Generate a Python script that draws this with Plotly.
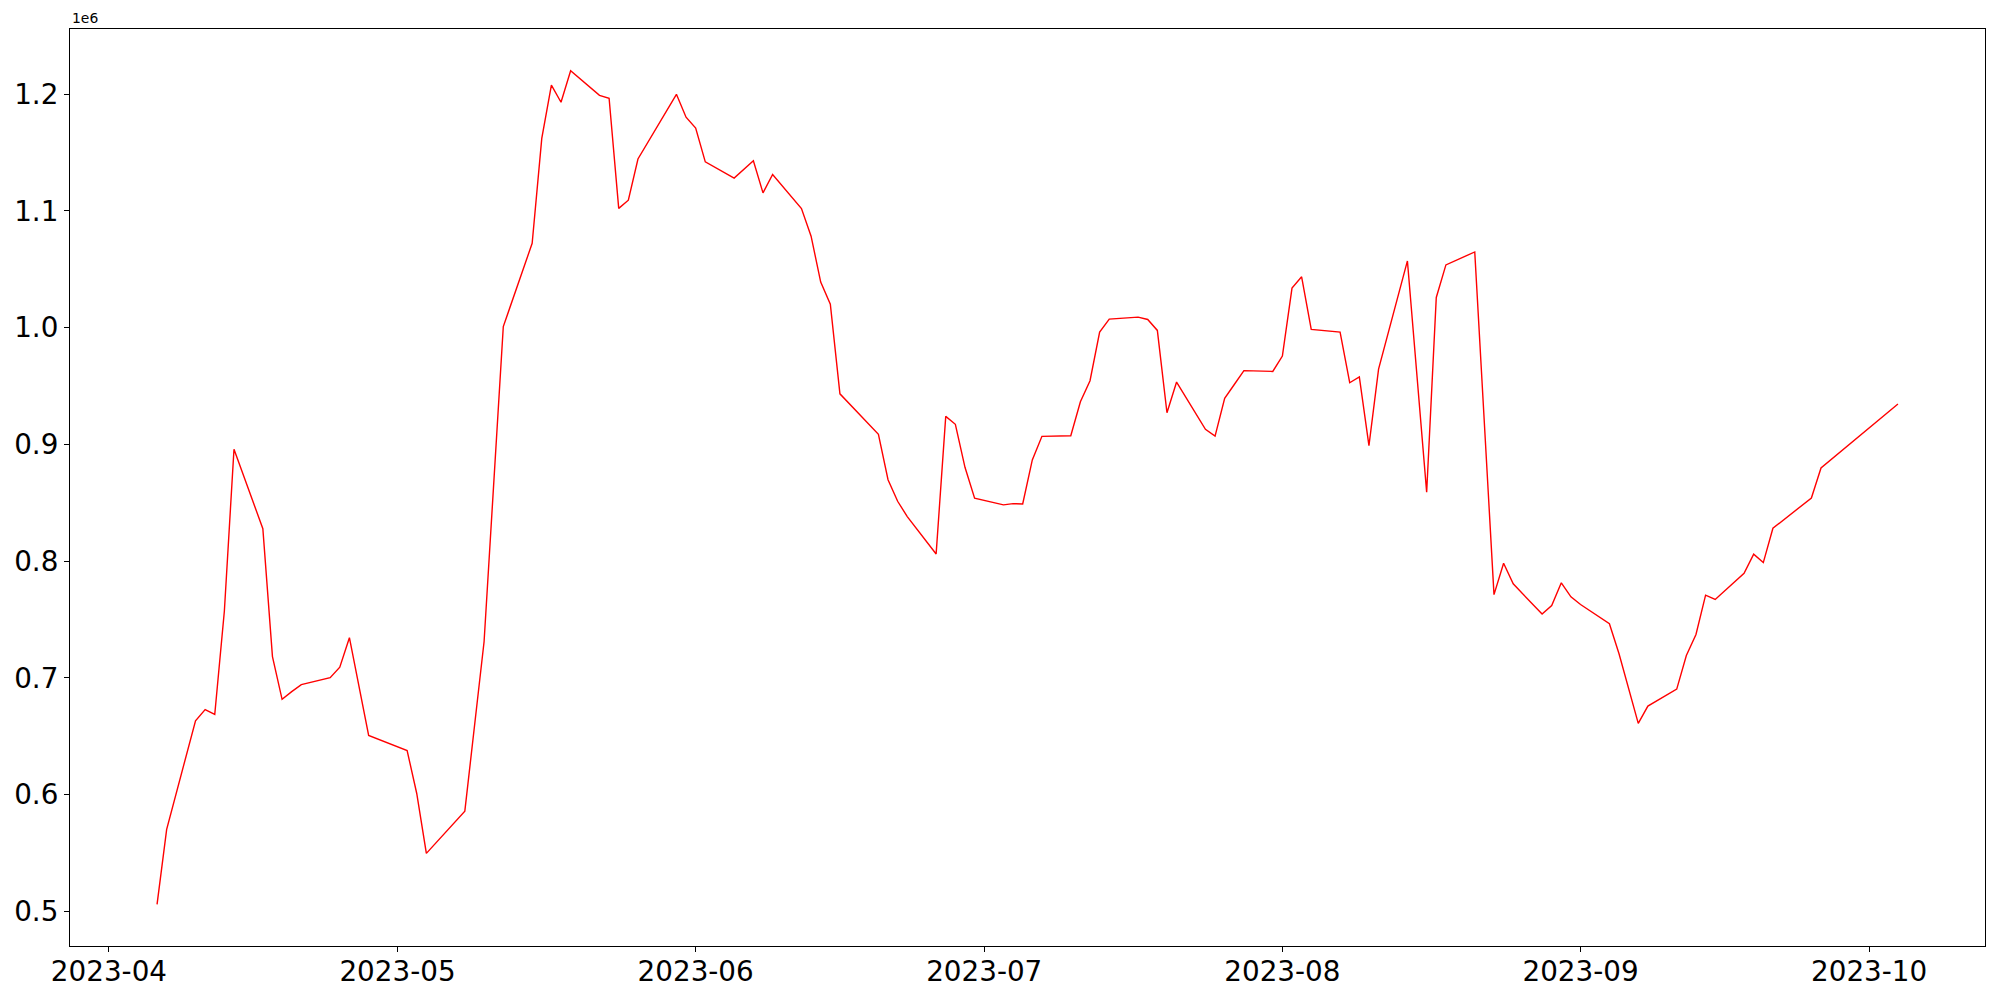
import plotly.graph_objects as go

dates = [
    "2023-04-06", "2023-04-07", "2023-04-10", "2023-04-11", "2023-04-12", "2023-04-13",
    "2023-04-14", "2023-04-17", "2023-04-18", "2023-04-19", "2023-04-20", "2023-04-21",
    "2023-04-24", "2023-04-25", "2023-04-26", "2023-04-27", "2023-04-28", "2023-05-02",
    "2023-05-03", "2023-05-04", "2023-05-08", "2023-05-10", "2023-05-11", "2023-05-12",
    "2023-05-15", "2023-05-16", "2023-05-17", "2023-05-18", "2023-05-19", "2023-05-22",
    "2023-05-23", "2023-05-24", "2023-05-25", "2023-05-26", "2023-05-30", "2023-05-31",
    "2023-06-01", "2023-06-02", "2023-06-05", "2023-06-07", "2023-06-08", "2023-06-09",
    "2023-06-12", "2023-06-13", "2023-06-14", "2023-06-15", "2023-06-16", "2023-06-19",
    "2023-06-20", "2023-06-21", "2023-06-22", "2023-06-23", "2023-06-26", "2023-06-27",
    "2023-06-28", "2023-06-29", "2023-06-30", "2023-07-03", "2023-07-04", "2023-07-05",
    "2023-07-06", "2023-07-07", "2023-07-10", "2023-07-11", "2023-07-12", "2023-07-13",
    "2023-07-14", "2023-07-17", "2023-07-18", "2023-07-19", "2023-07-20", "2023-07-21",
    "2023-07-24", "2023-07-25", "2023-07-26", "2023-07-27", "2023-07-28", "2023-07-31",
    "2023-08-01", "2023-08-02", "2023-08-03", "2023-08-04", "2023-08-07", "2023-08-08",
    "2023-08-09", "2023-08-10", "2023-08-11", "2023-08-14", "2023-08-16", "2023-08-17",
    "2023-08-18", "2023-08-21", "2023-08-23", "2023-08-24", "2023-08-25", "2023-08-28",
    "2023-08-29", "2023-08-30", "2023-08-31", "2023-09-01", "2023-09-04", "2023-09-05",
    "2023-09-07", "2023-09-08", "2023-09-11", "2023-09-12", "2023-09-13", "2023-09-14",
    "2023-09-15", "2023-09-18", "2023-09-19", "2023-09-20", "2023-09-21", "2023-09-25",
    "2023-09-26", "2023-10-04",
]

# values in units of 1e6
values = [
    0.5062, 0.5704, 0.6634, 0.6730, 0.6688, 0.7573,
    0.8959, 0.8278, 0.7183, 0.6817, 0.6883, 0.6943,
    0.7003, 0.7093, 0.7345, 0.6920, 0.6508, 0.6379,
    0.6011, 0.5498, 0.5860, 0.7310, 0.8674, 1.0009,
    1.0722, 1.1620, 1.2077, 1.1930, 1.2200, 1.1989,
    1.1964, 1.1021, 1.1091, 1.1444, 1.1998, 1.1802,
    1.1709, 1.1419, 1.1281, 1.1429, 1.1154, 1.1311,
    1.1020, 1.0783, 1.0390, 1.0201, 0.9433, 0.9175,
    0.9086, 0.8698, 0.8513, 0.8382, 0.8062, 0.9240,
    0.9172, 0.8804, 0.8539, 0.8482, 0.8493, 0.8490,
    0.8867, 0.9069, 0.9074, 0.9365, 0.9545, 0.9962,
    1.0073, 1.0090, 1.0070, 0.9976, 0.9271, 0.9534,
    0.9129, 0.9071, 0.9395, 0.9513, 0.9632, 0.9625,
    0.9756, 1.0338, 1.0435, 0.9985, 0.9962, 0.9528,
    0.9579, 0.8989, 0.9645, 1.0571, 0.8590, 1.0258,
    1.0537, 1.0648, 0.7714, 0.7982, 0.7806, 0.7547,
    0.7620, 0.7815, 0.7695, 0.7629, 0.7464, 0.7207,
    0.6611, 0.6759, 0.6905, 0.7192, 0.7372, 0.7709,
    0.7672, 0.7897, 0.8060, 0.7988, 0.8282, 0.8541,
    0.8798, 0.9346,
]

x_ticks = ["2023-04-01", "2023-05-01", "2023-06-01", "2023-07-01",
           "2023-08-01", "2023-09-01", "2023-10-01"]
x_tick_labels = ["2023-04", "2023-05", "2023-06", "2023-07", "2023-08", "2023-09", "2023-10"]
y_ticks = [0.5, 0.6, 0.7, 0.8, 0.9, 1.0, 1.1, 1.2]
y_tick_labels = ["0.5", "0.6", "0.7", "0.8", "0.9", "1.0", "1.1", "1.2"]

fig = go.Figure()
fig.add_trace(go.Scatter(x=dates, y=values, mode="lines",
                         line=dict(color="#ff0000", width=1.4),
                         showlegend=False, hoverinfo="x+y"))

axis_common = dict(
    showline=True, linecolor="black", linewidth=1.1, mirror=True,
    showgrid=False, zeroline=False, automargin=False,
    ticks="outside", ticklen=5, tickwidth=1.1, tickcolor="black",
    tickfont=dict(family="DejaVu Sans", size=27.8, color="black"),
)

fig.update_xaxes(type="date", range=["2023-03-27 22:48", "2023-10-13 01:12"],
                 tickmode="array", tickvals=x_ticks, ticktext=x_tick_labels,
                 ticklabelstandoff=-4, **axis_common)
fig.update_yaxes(range=[0.4705, 1.2557], tickmode="array",
                 tickvals=y_ticks, ticktext=y_tick_labels, **axis_common)

fig.add_annotation(text="1e6", xref="paper", yref="paper", x=0, y=1,
                   xanchor="left", yanchor="bottom", yshift=1, showarrow=False,
                   font=dict(family="DejaVu Sans", size=13.9, color="black"))

# page body has an 8px margin, so the figure is sized to 1992x992
fig.update_layout(
    width=1992, height=992,
    margin=dict(l=62, r=15, t=21, b=54, autoexpand=False),
    plot_bgcolor="white", paper_bgcolor="white",
    font=dict(family="DejaVu Sans", color="black"),
)

fig.write_html("out.html")
